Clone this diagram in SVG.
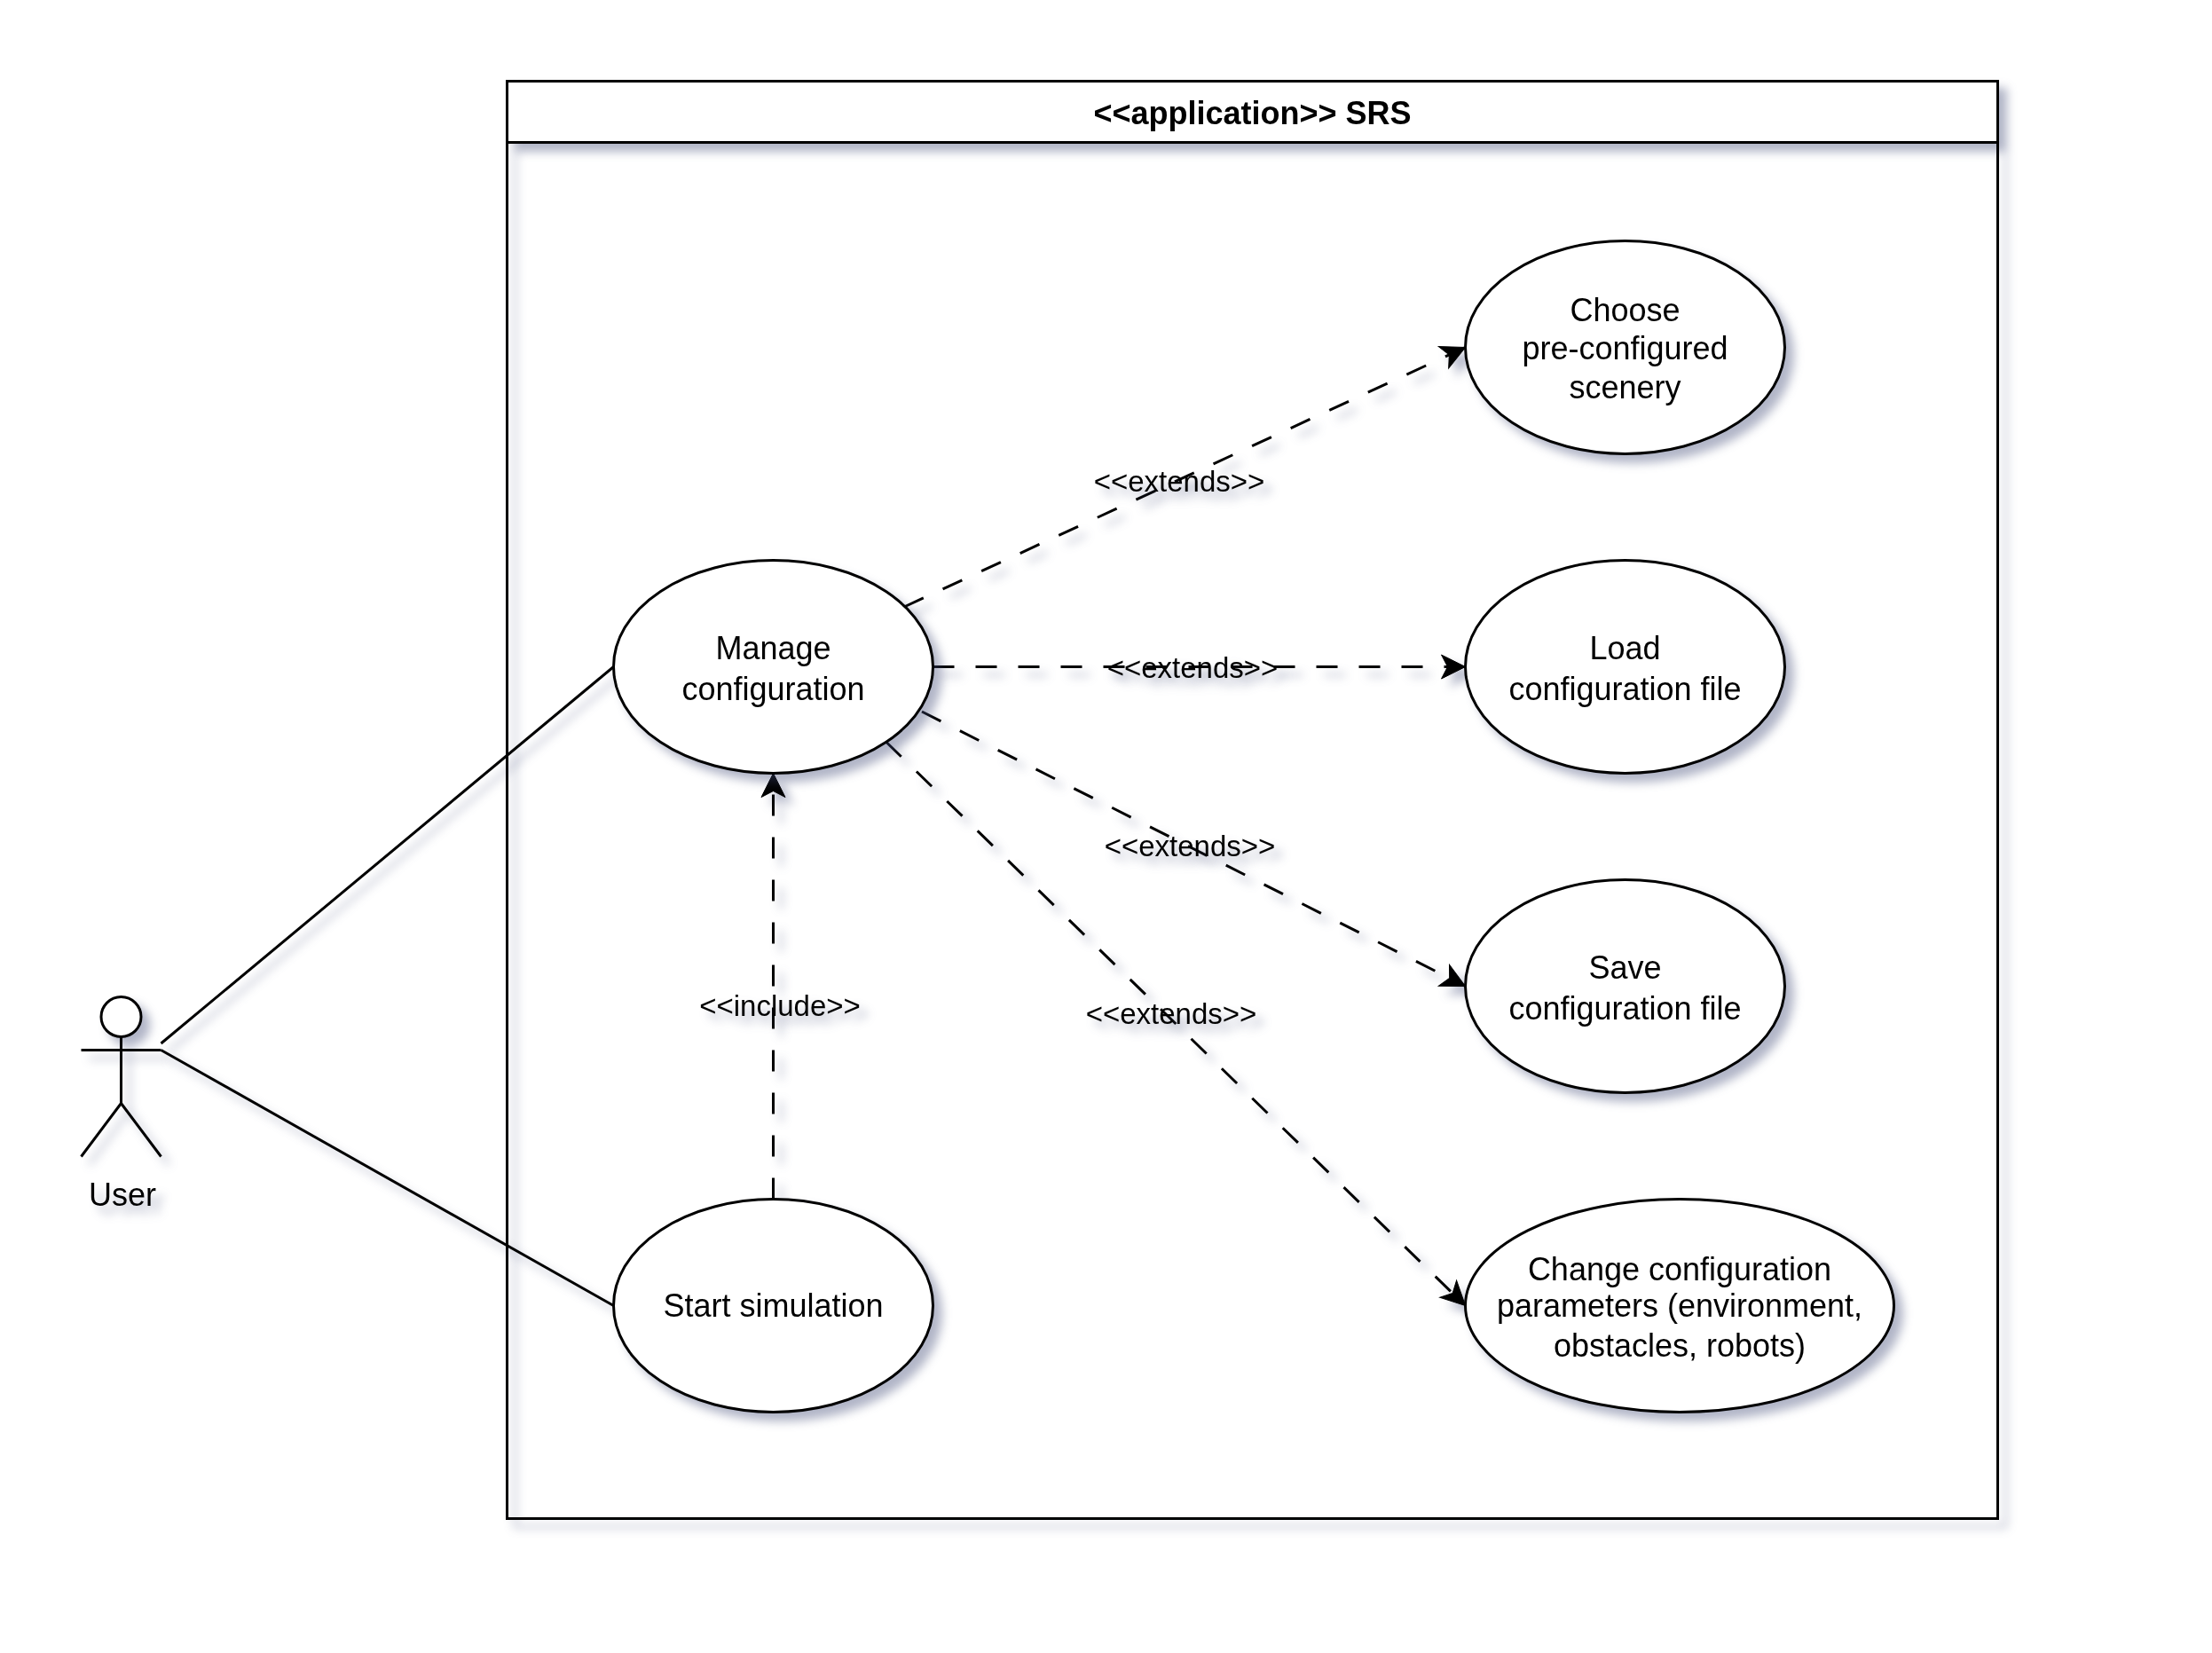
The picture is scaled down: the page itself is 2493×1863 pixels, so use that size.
<svg xmlns="http://www.w3.org/2000/svg" width="2493" height="1863" viewBox="0 0 2493 1863">
<defs>
<filter id="sh" filterUnits="userSpaceOnUse" x="0" y="0" width="2493" height="1863" color-interpolation-filters="sRGB">
<feGaussianBlur in="SourceAlpha" stdDeviation="5.1" result="b"/>
<feOffset in="b" dx="9" dy="9" result="o"/>
<feFlood flood-color="#3D4574" flood-opacity="0.4"/>
<feComposite in2="o" operator="in"/>
<feMerge><feMergeNode/><feMergeNode in="SourceGraphic"/></feMerge>
</filter>
<marker id="arrow" markerUnits="userSpaceOnUse" markerWidth="30" markerHeight="30" viewBox="-28 -15 30 30" refX="0" refY="0" orient="auto" overflow="visible">
<path d="M0,0 L-27,-13.5 L-20,0 L-27,13.5Z" fill="#000" stroke="#000" stroke-width="1"/>
</marker>
</defs>
<style>
.s{filter:url(#sh)}
.o{fill:#fff;stroke:#000;stroke-width:3}
.n{fill:none;stroke:#000;stroke-width:3}
.d{fill:none;stroke:#000;stroke-width:3;stroke-dasharray:24 24;marker-end:url(#arrow)}
text{font-family:"Liberation Sans",Arial,sans-serif;font-size:36px;fill:#000;text-anchor:middle}
.b{font-weight:bold}
.l{font-size:33px}
</style>
<rect width="2493" height="1863" fill="#fff"/>
<g id="frame" class="s">
<rect class="n" x="571.5" y="91.5" width="1680" height="1620"/>
<rect class="o" x="571.5" y="91.5" width="1680" height="69"/>
<text class="b" x="1411.5" y="140">&lt;&lt;application&gt;&gt; SRS</text>
</g>
<g id="connectors">
<path class="n s" d="M181.5,1176 L691.5,751.5"/>
<path class="n s" d="M181.5,1183.5 L691.5,1471.5"/>
<path class="d s" d="M1019,684 L1651.5,391.5"/>
<path class="d s" d="M1051.5,751.5 L1651.5,751.5"/>
<path class="d s" d="M1039,802 L1651.5,1111.5"/>
<path class="d s" d="M998.5,836 L1651.5,1471.5"/>
<path class="d s" d="M871.5,1351.5 L871.5,871.5"/>
<g class="s">
<text class="l" x="1329" y="554">&lt;&lt;extends&gt;&gt;</text>
<text class="l" x="1344" y="764">&lt;&lt;extends&gt;&gt;</text>
<text class="l" x="1341" y="965">&lt;&lt;extends&gt;&gt;</text>
<text class="l" x="1320" y="1154">&lt;&lt;extends&gt;&gt;</text>
<text class="l" x="879" y="1145">&lt;&lt;include&gt;&gt;</text>
</g>
</g>
<g id="user" class="s">
<circle class="o" cx="136.5" cy="1146" r="22.5"/>
<path class="n" d="M136.5,1168.5V1243.5M91.5,1183.5H181.5M136.5,1243.5L91.5,1303.5M136.5,1243.5L181.5,1303.5"/>
<text x="138" y="1358.5">User</text>
</g>
<g id="manage" class="s">
<ellipse class="o" cx="871.5" cy="751.5" rx="180" ry="120"/>
<text x="871.5" y="743">Manage</text>
<text x="871.5" y="788.5">configuration</text>
</g>
<g id="start" class="s">
<ellipse class="o" cx="871.5" cy="1471.5" rx="180" ry="120"/>
<text x="871.5" y="1484">Start simulation</text>
</g>
<g id="choose" class="s">
<ellipse class="o" cx="1831.5" cy="391.5" rx="180" ry="120"/>
<text x="1831.5" y="362">Choose</text>
<text x="1831.5" y="405">pre-configured</text>
<text x="1831.5" y="449">scenery</text>
</g>
<g id="load" class="s">
<ellipse class="o" cx="1831.5" cy="751.5" rx="180" ry="120"/>
<text x="1831.5" y="743">Load</text>
<text x="1831.5" y="788.5">configuration file</text>
</g>
<g id="save" class="s">
<ellipse class="o" cx="1831.5" cy="1111.5" rx="180" ry="120"/>
<text x="1831.5" y="1103">Save</text>
<text x="1831.5" y="1148.5">configuration file</text>
</g>
<g id="change" class="s">
<ellipse class="o" cx="1893" cy="1471.5" rx="241.5" ry="120"/>
<text x="1893" y="1443">Change configuration</text>
<text x="1893" y="1484">parameters (environment,</text>
<text x="1893" y="1529">obstacles, robots)</text>
</g>
</svg>
